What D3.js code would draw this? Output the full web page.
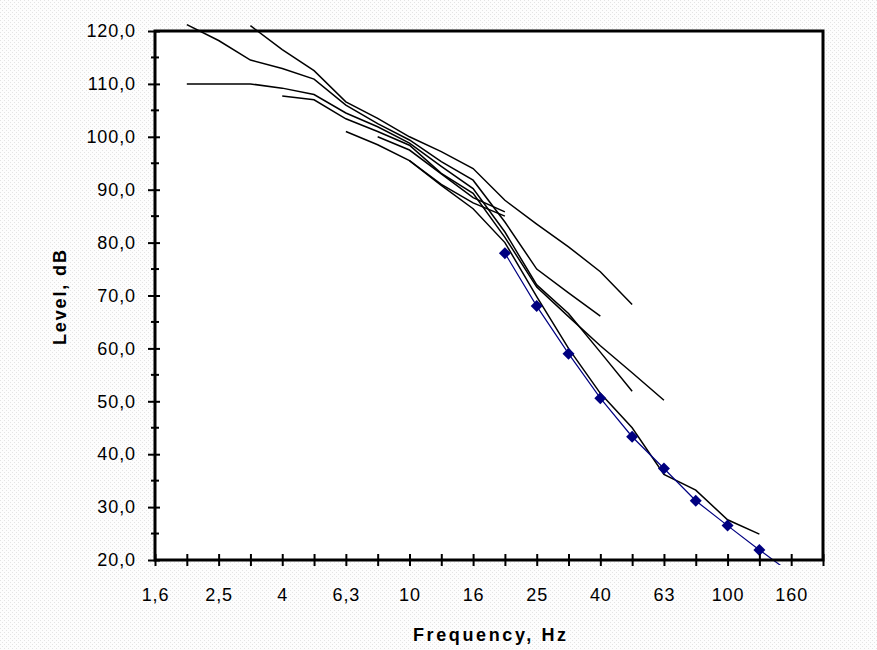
<!DOCTYPE html>
<html>
<head>
<meta charset="utf-8">
<script src="https://cdn.jsdelivr.net/npm/d3@7"></script>
<style>
  body { margin: 0; background: #fff; }
  svg { display: block; font-family: "Liberation Sans", Arial, sans-serif; }
  .tick text { font-size: 18px; letter-spacing: 0.9px; fill: #000; }
  .title { font-size: 18px; font-weight: bold; fill: #000; }
</style>
</head>
<body>
<svg width="877" height="650"></svg>
<script>
// third-octave band centres on the category axis
const freqs = ['1,6', '2', '2,5', '3,15', '4', '5', '6,3', '8', '10', '12,5', '16',
  '20', '25', '31,5', '40', '50', '63', '80', '100', '125', '160', '200'];

const levelTicks = [20, 30, 40, 50, 60, 70, 80, 90, 100, 110, 120];

// black measured curves (null = no value at that band)
const curveA = [null, 121.2, 118.2, 114.5, 112.9, 110.9, 106.0, 102.5, 99.4, 95.3, 91.8,
  83.9, 75.0, 70.5, 66.1, null, null, null, null, null, null, null];
const curveB = [null, null, null, 121.0, 116.5, 112.5, 106.6, 103.5, 100.0, 97.2, 94.0,
  88.0, 83.5, 79.2, 74.5, 68.3, null, null, null, null, null, null];
const curveC = [null, 110.0, 110.0, 110.0, 109.2, 108.0, 104.5, 101.9, 98.8, 94.4, 90.2,
  82.0, 72.0, 66.6, 59.3, 51.9, null, null, null, null, null, null];
const curveD = [null, null, null, null, 107.7, 107.0, 103.4, 101.0, 98.4, 93.1, 89.3,
  81.0, 71.6, 66.0, 60.5, 55.4, 50.2, null, null, null, null, null];
const curveE = [null, null, null, null, null, null, 101.0, 98.5, 95.5, 90.8, 86.4,
  80.0, 69.8, 60.0, 51.5, 45.0, 36.2, 33.2, 27.6, 24.9, null, null];
const curveF = [null, null, null, null, null, null, null, 100.0, 97.5, 93.0, 88.5,
  85.8, null, null, null, null, null, null, null, null, null, null];
const curveG = [null, null, null, null, null, null, null, null, 95.5, 91.0, 87.5,
  85.0, null, null, null, null, null, null, null, null, null, null];

// blue reference curve with markers
const refCurve = [null, null, null, null, null, null, null, null, null, null, null,
  78.0, 68.0, 59.0, 50.6, 43.3, 37.3, 31.2, 26.5, 21.9, 17.5, null];

const blackCurves = [curveA, curveB, curveC, curveD, curveE, curveF, curveG];

const svg = d3.select('svg');

const plotLeft = 155, plotRight = 823, plotTop = 31, plotBottom = 560;

// dotted chart-area background
const defs = svg.append('defs');
const pat = defs.append('pattern')
  .attr('id', 'dots')
  .attr('width', 4)
  .attr('height', 4)
  .attr('patternUnits', 'userSpaceOnUse');
pat.append('rect').attr('width', 4).attr('height', 4).attr('fill', '#fdfdfd');
pat.append('rect').attr('x', 0).attr('y', 0).attr('width', 1).attr('height', 1).attr('fill', '#e4e4e4');
pat.append('rect').attr('x', 2).attr('y', 2).attr('width', 1).attr('height', 1).attr('fill', '#e4e4e4');

defs.append('clipPath')
  .attr('id', 'plotClip')
  .append('rect')
  .attr('x', plotLeft)
  .attr('y', plotTop - 7)
  .attr('width', plotRight - plotLeft)
  .attr('height', plotBottom - plotTop + 12);

svg.append('rect')
  .attr('width', 877)
  .attr('height', 650)
  .attr('fill', 'url(#dots)');

svg.append('rect')
  .attr('x', plotLeft)
  .attr('y', plotTop)
  .attr('width', plotRight - plotLeft)
  .attr('height', plotBottom - plotTop)
  .attr('fill', '#fff');

// scales
const scaleX = d3.scalePoint()
  .domain(freqs)
  .range([plotLeft, plotRight]);

const scaleY = d3.scaleLinear()
  .domain([20, 120])
  .range([plotBottom, plotTop]);

// curves
const line = d3.line()
  .defined(d => d.v != null)
  .x(d => scaleX(d.f))
  .y(d => scaleY(d.v));

const toPoints = arr => arr.map((v, i) => ({ f: freqs[i], v: v }));

const plot = svg.append('g').attr('clip-path', 'url(#plotClip)');

blackCurves.forEach(c => {
  plot.append('path')
    .datum(toPoints(c))
    .attr('d', line)
    .attr('fill', 'none')
    .attr('stroke', '#000')
    .attr('stroke-width', 1.5);
});

plot.append('path')
  .datum(toPoints(refCurve))
  .attr('d', line)
  .attr('fill', 'none')
  .attr('stroke', '#000080')
  .attr('stroke-width', 1.2);

plot.selectAll('path.marker')
  .data(toPoints(refCurve).filter(d => d.v != null))
  .enter()
  .append('path')
  .attr('class', 'marker')
  .attr('transform', d => `translate(${scaleX(d.f)}, ${scaleY(d.v)})`)
  .attr('d', 'M0,-6L6,0L0,6L-6,0Z')
  .attr('fill', '#000080');

// plot border
svg.append('rect')
  .attr('x', plotLeft)
  .attr('y', plotTop)
  .attr('width', plotRight - plotLeft)
  .attr('height', plotBottom - plotTop)
  .attr('fill', 'none')
  .attr('stroke', '#000')
  .attr('stroke-width', 3);

// X axis: ticks on every band, labels on every other
const axisX = d3.axisBottom(scaleX)
  .tickSize(6)
  .tickPadding(22)
  .tickFormat((d, i) => (i % 2 === 0 ? d : ''));

const axisXGroup = svg.append('g')
  .attr('transform', `translate(0, ${plotBottom})`)
  .call(axisX);
axisXGroup.select('.domain').remove();
axisXGroup.selectAll('line')
  .attr('y1', -6)
  .attr('y2', 6)
  .attr('stroke', '#000')
  .attr('stroke-width', 2);
axisXGroup.selectAll('text').attr('font-family', null).attr('font-size', null);

// Y axis: labelled every 10 dB, minor marks every 5 dB
const axisY = d3.axisLeft(scaleY)
  .tickValues(levelTicks)
  .tickSize(7)
  .tickPadding(12)
  .tickFormat(d => d.toFixed(1).replace('.', ','));

const axisYGroup = svg.append('g')
  .attr('transform', `translate(${plotLeft}, 0)`)
  .call(axisY);
axisYGroup.select('.domain').remove();
axisYGroup.selectAll('line')
  .attr('x1', 5)
  .attr('stroke', '#000')
  .attr('stroke-width', 2);
axisYGroup.selectAll('text').attr('font-family', null).attr('font-size', null);

svg.append('g')
  .selectAll('line')
  .data(levelTicks.slice(0, -1).map(v => v + 5))
  .enter()
  .append('line')
  .attr('x1', plotLeft - 4)
  .attr('x2', plotLeft + 4)
  .attr('y1', d => scaleY(d))
  .attr('y2', d => scaleY(d))
  .attr('stroke', '#000')
  .attr('stroke-width', 2);

// axis titles
svg.append('text')
  .attr('class', 'title')
  .attr('x', 413)
  .attr('y', 641)
  .attr('textLength', 153)
  .attr('lengthAdjust', 'spacing')
  .text('Frequency, Hz');

svg.append('text')
  .attr('class', 'title')
  .attr('transform', 'translate(66, 345) rotate(-90)')
  .attr('textLength', 95)
  .attr('lengthAdjust', 'spacing')
  .text('Level, dB');
</script>
</body>
</html>
